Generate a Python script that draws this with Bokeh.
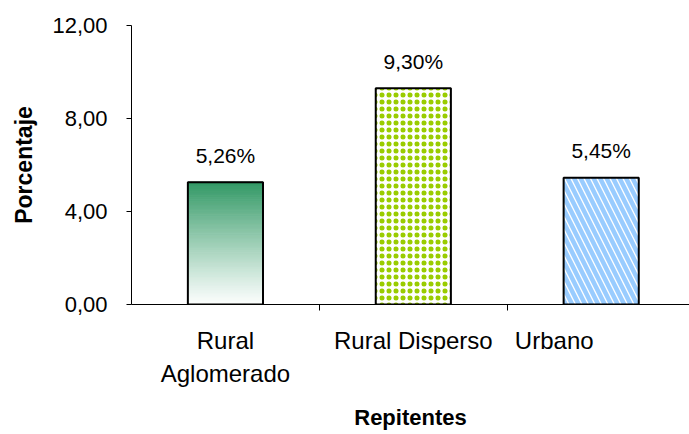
import numpy as np
from bokeh.plotting import figure
from bokeh.models import Range1d, FixedTicker
from bokeh.core.properties import value
from bokeh.embed import file_html
from bokeh.resources import INLINE

# ---- data ----
categories = ["Rural\nAglomerado", "Rural Disperso", "Urbano"]
values = [5.26, 9.30, 5.45]
y_ticks = [0, 4, 8, 12]
x_title = "Repitentes"
y_title = "Porcentaje"

FONT = "Liberation Sans"
centers = [i + 0.5 for i in range(len(categories))]
bar_w = 0.4

p = figure(width=689, height=434, output_backend="svg", toolbar_location=None,
           x_range=Range1d(0, 2.97), y_range=Range1d(0, 12),
           min_border_left=131, min_border_right=0, min_border_top=25,
           min_border_bottom=130)
p.outline_line_color = None
p.xgrid.visible = False
p.ygrid.visible = False
p.background_fill_color = "white"
p.border_fill_color = "white"

# bar 1: vertical gradient (green top -> white bottom) built from slices
n = 90
edges = np.linspace(0, values[0], n + 1)
top_rgb = np.array([0x33, 0x99, 0x66])
white = np.array([252, 254, 253])
cols = []
for k in range(n):
    t = ((edges[k] + edges[k + 1]) / 2) / values[0]
    c = white + (top_rgb - white) * (t ** 1.1)
    cols.append("#%02x%02x%02x" % tuple(int(round(v)) for v in c))
p.quad(left=centers[0] - bar_w / 2, right=centers[0] + bar_w / 2,
       bottom=edges[:-1], top=edges[1:], fill_color=cols, line_color=cols,
       line_width=1)

# bar 2: green dot pattern (dot + ring to enlarge the dots)
p.vbar(x=[centers[1]], top=[values[1]], width=bar_w, fill_color="white",
       hatch_pattern=".", hatch_color="#99cc00", hatch_scale=7, hatch_weight=2,
       line_color=None)
p.vbar(x=[centers[1]], top=[values[1]], width=bar_w, fill_color=None,
       hatch_pattern="o", hatch_color="#99cc00", hatch_scale=7, hatch_weight=1.5,
       line_color=None)
# bar 3: light blue diagonal stripes
p.vbar(x=[centers[2]], top=[values[2]], width=bar_w, fill_color="white",
       hatch_pattern="\\", hatch_color="#99ccff", hatch_scale=13, hatch_weight=4.5,
       line_color=None)

# outlines
p.vbar(x=centers, top=values, width=bar_w, fill_color=None,
       line_color="black", line_width=2)

# value labels
labels = [("%.2f" % v).replace(".", ",") + "%" for v in values]
p.text(x=centers, y=values, text=labels, text_align="center",
       text_baseline="middle", y_offset=-27, text_font=value(FONT),
       text_font_size="21px", text_color="black")

# y axis
p.yaxis.ticker = FixedTicker(ticks=y_ticks)
p.yaxis.major_label_overrides = {t: ("%.2f" % t).replace(".", ",") for t in y_ticks}
p.yaxis.minor_tick_line_color = None
p.yaxis.major_tick_out = 5
p.yaxis.major_tick_in = 0
p.yaxis.major_label_standoff = 19
p.yaxis.major_label_text_font = FONT
p.yaxis.major_label_text_font_size = "22px"
p.yaxis.major_label_text_color = "black"
p.yaxis.axis_label = y_title
p.yaxis.axis_label_text_font = FONT
p.yaxis.axis_label_text_font_size = "23px"
p.yaxis.axis_label_text_font_style = "bold"
p.yaxis.axis_label_text_color = "black"
p.yaxis.axis_label_standoff = 12
p.yaxis.axis_line_color = "black"
p.yaxis.major_tick_line_color = "black"

# x axis
label_pos = [0.5, 1.5, 2.25]
p.xaxis.ticker = FixedTicker(ticks=label_pos, minor_ticks=[1, 2])
p.xaxis.major_label_overrides = {pos: c for pos, c in zip(label_pos, categories)}
p.xaxis.major_tick_out = 0
p.xaxis.major_tick_in = 0
p.xaxis.minor_tick_out = 6
p.xaxis.minor_tick_in = 0
p.xaxis.minor_tick_line_color = "black"
p.xaxis.major_label_standoff = 16
p.xaxis.major_label_text_font = FONT
p.xaxis.major_label_text_font_size = "24px"
p.xaxis.major_label_text_line_height = 1.25
p.xaxis.major_label_text_color = "black"
p.xaxis.axis_label = x_title
p.xaxis.axis_label_text_font = FONT
p.xaxis.axis_label_text_font_size = "22px"
p.xaxis.axis_label_text_font_style = "bold"
p.xaxis.axis_label_text_color = "black"
p.xaxis.axis_label_standoff = 15
p.xaxis.axis_line_color = "black"

open("out.html", "w").write(file_html(p, INLINE))
